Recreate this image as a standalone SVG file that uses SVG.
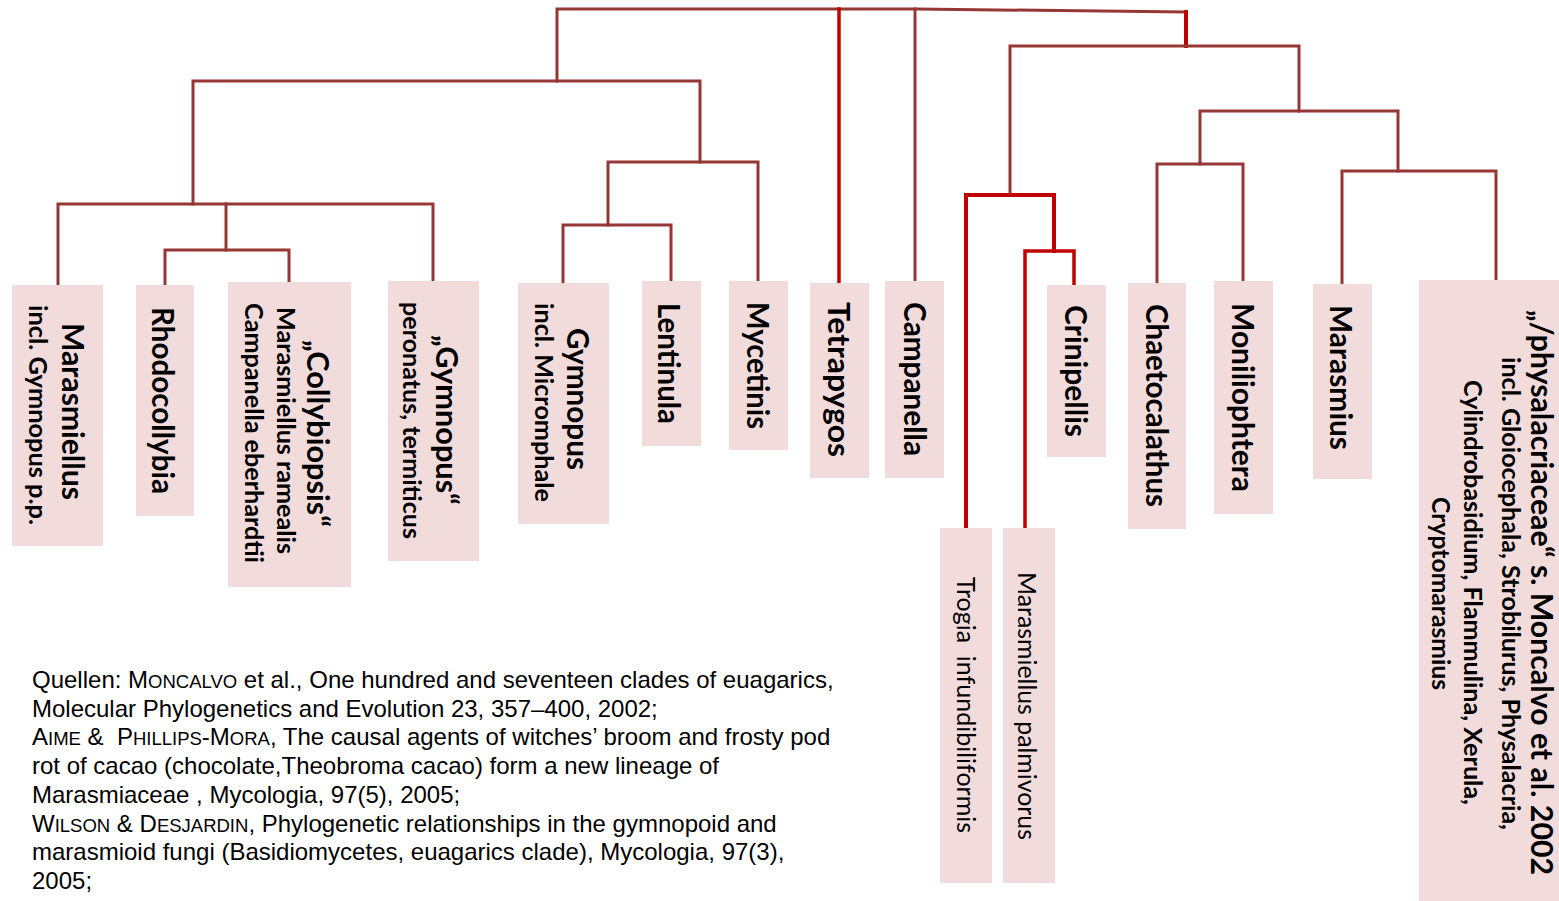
<svg xmlns="http://www.w3.org/2000/svg" width="1559" height="901" viewBox="0 0 1559 901">
<style>
.br{stroke:#953735;stroke-width:3;fill:none;stroke-linecap:square}
.rd{stroke:#C00000;stroke-width:3.5;fill:none;stroke-linecap:square}
.box{fill:#F2DCDB}
.t{font-family:Lato,"Open Sans","Noto Sans",sans-serif;font-weight:700;fill:#000;text-anchor:middle;white-space:pre}
.t1{font-size:30px}
.t2{font-size:25px}
.reg{font-weight:400}
.src{font-family:"Liberation Sans",Arial,sans-serif;font-size:24px;fill:#000;white-space:pre}
.sc{font-size:18.5px}
</style>
<rect width="1559" height="901" fill="#fff"/>
<g id="connectors">
<polyline class="br" points="557,81 557,9 916,9 1186,12"/>
<line class="rd" x1="1186" y1="12" x2="1186" y2="46" style="stroke-width:4"/>
<line class="rd" x1="839" y1="9" x2="839" y2="283"/>
<line class="br" x1="915" y1="9" x2="915" y2="281"/>
<polyline class="br" points="193,204 193,81 700,81 700,162"/>
<polyline class="br" points="58,285 58,204 433,204 433,281"/>
<line class="br" x1="226" y1="204" x2="226" y2="250"/>
<polyline class="br" points="165,285 165,250 289,250 289,282"/>
<polyline class="br" points="608,225 608,162 758,162 758,281"/>
<polyline class="br" points="563,283 563,225 671,225 671,281"/>
<polyline class="br" points="1010,195 1010,46 1299,46 1299,111"/>
<polyline class="rd" points="966,528 966,195 1054,195 1054,251" style="stroke-width:4"/>
<polyline class="rd" points="1025,528 1025,251 1074,251 1074,285"/>
<polyline class="br" points="1200,164 1200,111 1398,111 1398,171"/>
<polyline class="br" points="1157,283 1157,164 1243,164 1243,281"/>
<polyline class="br" points="1342,284 1342,171 1496,171 1496,281"/>
</g>
<g id="n-marasmiellus">
<rect class="box" x="12" y="285" width="91" height="261"/>
<text class="t t1" transform="translate(62,411.5) rotate(90)" textLength="177" lengthAdjust="spacingAndGlyphs">Marasmiellus</text>
<text class="t t2" transform="translate(29,415) rotate(90)" textLength="220" lengthAdjust="spacingAndGlyphs">incl. Gymnopus p.p.</text>
</g>
<g id="n-rhodocollybia">
<rect class="box" x="136" y="285" width="58" height="231"/>
<text class="t t1" transform="translate(152,400.5) rotate(90)" textLength="187" lengthAdjust="spacingAndGlyphs">Rhodocollybia</text>
</g>
<g id="n-collybiopsis">
<rect class="box" x="228" y="282" width="123" height="305"/>
<text class="t t1" transform="translate(307,433.5) rotate(90)" textLength="187" lengthAdjust="spacingAndGlyphs">„Collybiopsis“</text>
<text class="t t2" transform="translate(277,430.5) rotate(90)" textLength="247" lengthAdjust="spacingAndGlyphs">Marasmiellus ramealis</text>
<text class="t t2" transform="translate(245,433) rotate(90)" textLength="260" lengthAdjust="spacingAndGlyphs">Campanella eberhardtii</text>
</g>
<g id="n-gymnopus-q">
<rect class="box" x="388" y="281" width="91" height="280"/>
<text class="t t1" transform="translate(436,420) rotate(90)" textLength="170" lengthAdjust="spacingAndGlyphs">„Gymnopus“</text>
<text class="t t2" transform="translate(403,420.5) rotate(90)" textLength="237" lengthAdjust="spacingAndGlyphs">peronatus, termiticus</text>
</g>
<g id="n-gymnopus">
<rect class="box" x="518" y="283" width="91" height="241"/>
<text class="t t1" transform="translate(567,399) rotate(90)" textLength="142" lengthAdjust="spacingAndGlyphs">Gymnopus</text>
<text class="t t2" transform="translate(535,402.5) rotate(90)" textLength="199" lengthAdjust="spacingAndGlyphs">incl. Micromphale</text>
</g>
<g id="n-lentinula">
<rect class="box" x="642" y="281" width="59" height="165"/>
<text class="t t1" transform="translate(658,363.5) rotate(90)" textLength="121" lengthAdjust="spacingAndGlyphs">Lentinula</text>
</g>
<g id="n-mycetinis">
<rect class="box" x="729" y="281" width="59" height="169"/>
<text class="t t1" transform="translate(747,365.5) rotate(90)" textLength="127" lengthAdjust="spacingAndGlyphs">Mycetinis</text>
</g>
<g id="n-tetrapygos">
<rect class="box" x="810" y="283" width="59" height="195"/>
<text class="t t1" transform="translate(828,379.5) rotate(90)" textLength="155" lengthAdjust="spacingAndGlyphs">Tetrapygos</text>
</g>
<g id="n-campanella">
<rect class="box" x="885" y="281" width="59" height="197"/>
<text class="t t1" transform="translate(904,379) rotate(90)" textLength="154" lengthAdjust="spacingAndGlyphs">Campanella</text>
</g>
<g id="n-trogia">
<rect class="box" x="940" y="528" width="52" height="355"/>
<text class="t t2 reg" transform="translate(957,705) rotate(90)" textLength="256" lengthAdjust="spacingAndGlyphs">Trogia  infundibiliformis</text>
</g>
<g id="n-palmivorus">
<rect class="box" x="1003" y="528" width="52" height="355"/>
<text class="t t2 reg" transform="translate(1018,706) rotate(90)" textLength="268" lengthAdjust="spacingAndGlyphs">Marasmiellus palmivorus</text>
</g>
<g id="n-crinipellis">
<rect class="box" x="1047" y="285" width="59" height="172"/>
<text class="t t1" transform="translate(1065,371) rotate(90)" textLength="132" lengthAdjust="spacingAndGlyphs">Crinipellis</text>
</g>
<g id="n-chaetocalathus">
<rect class="box" x="1128" y="283" width="58" height="246"/>
<text class="t t1" transform="translate(1146,405.5) rotate(90)" textLength="203" lengthAdjust="spacingAndGlyphs">Chaetocalathus</text>
</g>
<g id="n-moniliophtera">
<rect class="box" x="1214" y="281" width="59" height="233"/>
<text class="t t1" transform="translate(1232,397.5) rotate(90)" textLength="189" lengthAdjust="spacingAndGlyphs">Moniliophtera</text>
</g>
<g id="n-marasmius">
<rect class="box" x="1313" y="284" width="59" height="195"/>
<text class="t t1" transform="translate(1330,377.5) rotate(90)" textLength="145" lengthAdjust="spacingAndGlyphs">Marasmius</text>
</g>
<g id="n-physalacriaceae">
<rect class="box" x="1419" y="280" width="140" height="621"/>
<text class="t t1" transform="translate(1531,592.5) rotate(90)" textLength="565" lengthAdjust="spacingAndGlyphs">„/physalacriaceae“ s. Moncalvo et al. 2002</text>
<text class="t t2" transform="translate(1502,593.5) rotate(90)" textLength="473" lengthAdjust="spacingAndGlyphs">incl. Gloiocephala, Strobilurus, Physalacria,</text>
<text class="t t2" transform="translate(1464,592.5) rotate(90)" textLength="425" lengthAdjust="spacingAndGlyphs">Cylindrobasidium, Flammulina, Xerula,</text>
<text class="t t2" transform="translate(1432,593.5) rotate(90)" textLength="193" lengthAdjust="spacingAndGlyphs">Cryptomarasmius</text>
</g>
<g id="sources">
<text class="src" x="32" y="688">Quellen: M<tspan class="sc">ONCALVO</tspan> et al., One hundred and seventeen clades of euagarics,</text>
<text class="src" x="32" y="717">Molecular Phylogenetics and Evolution 23, 357–400, 2002;</text>
<text class="src" x="32" y="745">A<tspan class="sc">IME</tspan> &amp;  P<tspan class="sc">HILLIPS</tspan>-M<tspan class="sc">ORA</tspan>, The causal agents of witches’ broom and frosty pod</text>
<text class="src" x="32" y="774">rot of cacao (chocolate,Theobroma cacao) form a new lineage of</text>
<text class="src" x="32" y="803">Marasmiaceae , Mycologia, 97(5), 2005;</text>
<text class="src" x="32" y="832">W<tspan class="sc">ILSON</tspan> &amp; D<tspan class="sc">ESJARDIN</tspan>, Phylogenetic relationships in the gymnopoid and</text>
<text class="src" x="32" y="860">marasmioid fungi (Basidiomycetes, euagarics clade), Mycologia, 97(3),</text>
<text class="src" x="32" y="889">2005;</text>
</g>
</svg>
